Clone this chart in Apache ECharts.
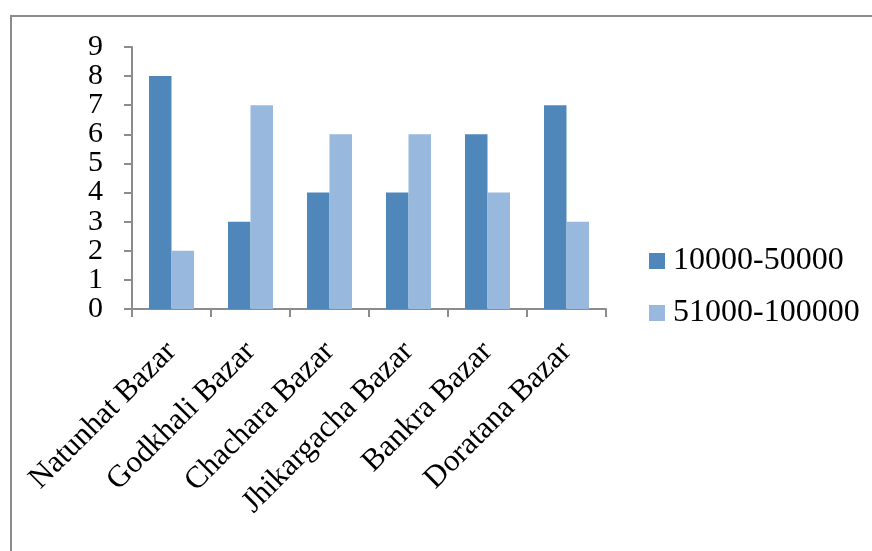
<!DOCTYPE html>
<html>
<head>
<meta charset="utf-8">
<script src="https://cdn.jsdelivr.net/npm/echarts@6/dist/echarts.min.js"></script>
<style>
  html, body { margin: 0; padding: 0; background: #fff; }
  #chart { width: 872px; height: 551px; }
</style>
</head>
<body>
<div id="chart"></div>
<script>
var markets = ['Natunhat Bazar', 'Godkhali Bazar', 'Chachara Bazar', 'Jhikargacha Bazar', 'Bankra Bazar', 'Doratana Bazar'];
var low_range = [8, 3, 4, 4, 6, 7];
var high_range = [2, 7, 6, 6, 4, 3];
var series_names = ['10000-50000', '51000-100000'];

var serif = '"Liberation Serif", "Times New Roman", serif';

var myChart = echarts.init(document.getElementById('chart'));

// labels 0..9 are packed tight, so split them over two stacked axes
// (even on one, odd on the other) to stop echarts hiding any of them
function yLabels(keepOdd) {
    return {
        margin: 29,
        hideOverlap: false,
        fontFamily: serif,
        fontSize: 30,
        color: '#000',
        formatter: function (v) {
            return (v % 2 === 1) === keepOdd ? String(v) : '';
        }
    };
}

var option = {
    animation: false,
    color: ['#4F87BA', '#98B8DE'],
    graphic: [
        {
            type: 'rect',
            shape: { x: 11, y: 16, width: 900, height: 600 },
            style: { fill: 'none', stroke: '#8c8c8c', lineWidth: 2 }
        }
    ],
    grid: { left: 132, right: 266, top: 47, bottom: 242 },
    legend: {
        orient: 'vertical',
        left: 644,
        top: 240,
        itemWidth: 16,
        itemHeight: 16,
        itemGap: 20,
        icon: 'rect',
        data: series_names,
        textStyle: {
            fontFamily: serif,
            fontSize: 32,
            color: '#000',
            lineHeight: 32,
            padding: [0, 0, 0, 3]
        }
    },
    xAxis: {
        type: 'category',
        data: markets,
        axisLine: { lineStyle: { color: '#8c8c8c', width: 2 } },
        axisTick: { show: true, interval: 0, length: 8, lineStyle: { color: '#8c8c8c', width: 2 } },
        axisLabel: {
            rotate: 45,
            interval: 0,
            margin: 38,
            fontFamily: serif,
            fontSize: 31,
            color: '#000'
        }
    },
    yAxis: [
        {
            type: 'value',
            position: 'left',
            min: 0,
            max: 9,
            interval: 1,
            splitLine: { show: false },
            axisLine: { show: true, lineStyle: { color: '#8c8c8c', width: 2 } },
            axisTick: { show: true, length: 8, lineStyle: { color: '#8c8c8c', width: 2 } },
            axisLabel: yLabels(false)
        },
        {
            type: 'value',
            position: 'left',
            offset: 0,
            min: 0,
            max: 9,
            interval: 1,
            splitLine: { show: false },
            axisLine: { show: false },
            axisTick: { show: false },
            axisLabel: yLabels(true)
        }
    ],
    series: [
        {
            name: series_names[0],
            type: 'bar',
            data: low_range,
            barWidth: '28.5%',
            barGap: '0%'
        },
        {
            name: series_names[1],
            type: 'bar',
            data: high_range,
            barWidth: '28.5%',
            barGap: '0%'
        }
    ]
};

myChart.setOption(option);
</script>
</body>
</html>
